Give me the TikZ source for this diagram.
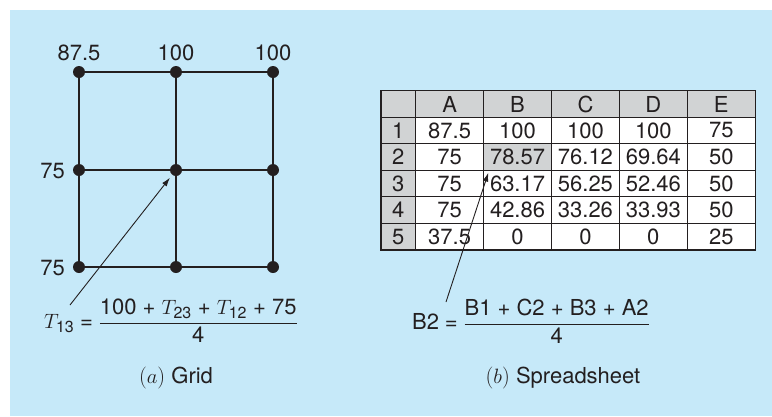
\documentclass[tikz,border=0pt]{standalone}
\usepackage{fontspec}
\setmainfont{TeX Gyre Heros}
\usetikzlibrary{arrows.meta}
\definecolor{panelblue}{RGB}{198,233,249}
\definecolor{cellgray}{RGB}{209,211,212}
\definecolor{inkgray}{RGB}{35,31,32}
\newcommand{\lmroman}{\fontfamily{lmr}\selectfont}
\newcommand{\subsz}{\fontsize{16}{18}\selectfont}
\tikzset{
  every node/.style={font=\fontsize{22}{26}\selectfont, text=inkgray},
  gridpt/.style={circle, fill=inkgray, inner sep=0pt, minimum size=12pt},
  plainlabel/.style={inner sep=0pt},
  cell/.style={draw=inkgray, line width=1.1pt, inner sep=0pt,
    minimum width=67.9pt, minimum height=26.55pt},
  headcell/.style={cell, fill=cellgray},
  rowcell/.style={headcell, minimum width=34.7pt},
  pointer/.style={-{Latex[length=9pt,width=5.5pt]}, line width=0.9pt, draw=inkgray},
}
\begin{document}
\begin{tikzpicture}[x=1pt, y=-1pt]

    %% =========================================================
    %% PANEL — 772 x 416, blue from (10,10)
    %% =========================================================
    \useasboundingbox (0,0) rectangle (772,416);
    \fill[panelblue] (10,10) rectangle (772,416);

    %% =========================================================
    %% (a) GRID — columns x = 79, 176, 273
    %%            rows    y = 72, 170, 267
    %% =========================================================
    \foreach \i/\x in {1/79, 2/176, 3/273}{
      \foreach \j/\y in {1/72, 2/170, 3/267}{
        \node[gridpt] (g\i\j) at (\x,\y) {};
      }
    }

    % outer lines
    \draw[inkgray, line width=1.1pt] (g11) -- (g21) -- (g31);
    \draw[inkgray, line width=1.1pt] (g13) -- (g23) -- (g33);
    \draw[inkgray, line width=1.1pt] (g11) -- (g12) -- (g13);
    \draw[inkgray, line width=1.1pt] (g31) -- (g32) -- (g33);
    % inner lines (heavier)
    \draw[inkgray, line width=2pt] (g21) -- (g22) -- (g23);
    \draw[inkgray, line width=2pt] (g12) -- (g22) -- (g32);

    % boundary values
    \node (top1) at (79,53)  {87.5};
    \node (top2) at (176,53) {100};
    \node (top3) at (273,53) {100};
    \node[plainlabel, anchor=east] (side2) at (65,171) {75};
    \node[plainlabel, anchor=east] (side3) at (65,268) {75};

    % formula
    \node (t13eq) at (171,321)
      {$\displaystyle T_{\hbox{\subsz 13}} \mathrel{\hbox{=}}
        \frac{\hbox{100 + }T_{\hbox{\subsz 23}}\hbox{ + }T_{\hbox{\subsz 12}}\hbox{ + 75}}{\hbox{4}}$};
    \coordinate (t13from) at (70,305);
    \draw[pointer, shorten >=3.5pt] (t13from) -- (g22);

    \node (capa) at (176,378) {{\lmroman($a$)} Grid};

    %% =========================================================
    %% (b) SPREADSHEET — left x = 381, top y = 90.7
    %% row header 34.7 wide, cells 67.9 x 26.55
    %% =========================================================
    % body fills: white, B2 gray
    \fill[white] (415.7,116.25) rectangle (755.2,249.5);
    \fill[cellgray] (483.6,143.35) rectangle (551.5,169.9);

    \node[rowcell] (corner) at (398.35,104) {};
    \foreach \col/\k in {A/1, B/2, C/3, D/4, E/5}{
      \node[headcell] (h\col) at ({415.7+67.9*(\k-0.5)},104) {\col};
    }

    \foreach \row/\va/\vb/\vc/\vd/\ve in {
        1/87.5/100/100/100/75,
        2/75/78.57/76.12/69.64/50,
        3/75/63.17/56.25/52.46/50,
        4/75/42.86/33.26/33.93/50,
        5/37.5/0/0/0/25}{
      \pgfmathsetmacro{\yy}{90.7+26.55*(\row+0.5)}
      \node[rowcell] (r\row) at (398.35,\yy) {\row};
      \node[cell] (cA\row) at (449.65,\yy) {\va};
      \node[cell] (cB\row) at (517.55,\yy) {\vb};
      \node[cell] (cC\row) at (585.45,\yy) {\vc};
      \node[cell] (cD\row) at (653.35,\yy) {\vd};
      \node[cell] (cE\row) at (721.25,\yy) {\ve};
    }

    % formula
    \node (b2eq) at (531,321)
      {$\displaystyle \hbox{B2} \mathrel{\hbox{=}} \frac{\hbox{B1 + C2 + B3 + A2}}{\hbox{4}}$};
    \coordinate (b2from) at (446,302);
    \coordinate (b2tip) at ([xshift=5.3pt, yshift=-1.7pt]cB2.south west);
    \draw[pointer] (b2from) -- (b2tip);

    \node (capb) at (563,378) {{\lmroman($b$)} Spreadsheet};

  \end{tikzpicture}
\end{document}
